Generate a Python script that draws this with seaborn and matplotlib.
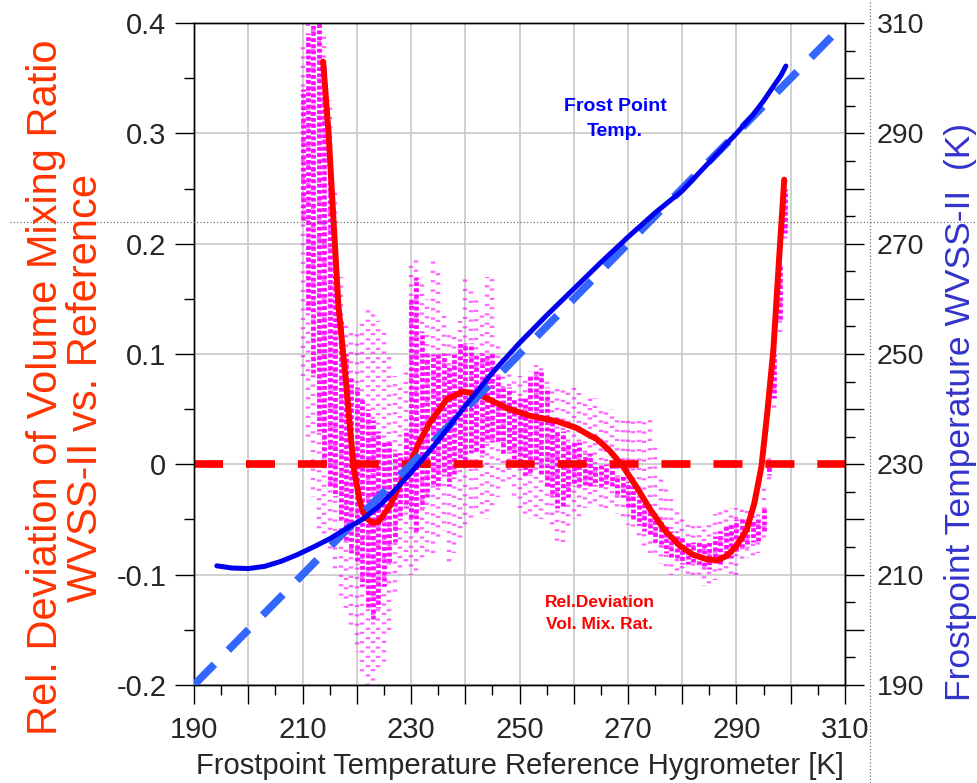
import numpy as np
import pandas as pd
import matplotlib
matplotlib.use("Agg")
import matplotlib.pyplot as plt
import seaborn as sns
from matplotlib import font_manager
from matplotlib.lines import Line2D
from matplotlib.ticker import MultipleLocator, FuncFormatter

# --- Data ---

# red fit: relative deviation of volume mixing ratio (left axis)
dev_temp = [213.8, 214.8, 215.7, 216.6, 217.4, 218.1, 218.8, 219.5, 220.6, 221.6, 222.8,
            224.0, 224.9, 226.2, 227.4, 228.6, 229.8, 231.5, 233.5, 236.6, 239.6, 242.7,
            247.6, 251.9, 256.9, 260.5, 263.0, 264.2, 266.5, 269.1, 271.5, 274.1, 276.8,
            279.6, 282.0, 284.5, 286.5, 288.2, 290.0, 291.9, 293.3, 294.6, 295.7, 296.8,
            297.9, 298.5, 298.8]
dev_value = [0.365, 0.300, 0.222, 0.145, 0.105, 0.070, 0.030, -0.005, -0.035, -0.048, -0.053,
             -0.052, -0.046, -0.037, -0.024, -0.012, 0.000, 0.020, 0.038, 0.059, 0.066, 0.063,
             0.051, 0.044, 0.039, 0.033, 0.026, 0.023, 0.013, -0.002, -0.020, -0.041, -0.060,
             -0.074, -0.082, -0.086, -0.087, -0.083, -0.074, -0.059, -0.035, -0.002, 0.048, 0.104,
             0.190, 0.235, 0.258]

# blue curve: WVSS-II frostpoint vs reference (right axis)
fp_ref = [194.2, 197, 200, 203, 206, 209, 212, 215, 218, 221, 224, 227, 230, 235, 240,
          245, 250, 255, 260, 265, 270, 275, 280, 285, 290, 293, 295, 297, 298.2, 299.1]
fp_wvss = [211.6, 211.2, 211.1, 211.5, 212.4, 213.6, 215.0, 216.5, 218.3, 220.0, 222.3,
           225.3, 228.5, 234.3, 240.6, 246.6, 252.0, 257.0, 261.8, 266.6, 271.2, 275.6,
           279.6, 284.8, 290.0, 293.3, 295.9, 298.8, 300.5, 302.2]

# magenta measurement cloud, one column per kelvin: outer extent and dense core
cloud_t = list(range(210, 300))
cloud_lo = [0.08, 0.02, -0.03, -0.06, -0.07, -0.08, -0.10, -0.12, -0.13, -0.15,
            -0.17, -0.19, -0.20, -0.20, -0.19, -0.18, -0.15, -0.12, -0.10, -0.09,
            -0.10, -0.10, -0.09, -0.08, -0.08, -0.07, -0.06, -0.09, -0.08, -0.07,
            -0.06, -0.05, -0.04, -0.05, -0.05, -0.04, -0.03, -0.02, -0.02, -0.03,
            -0.04, -0.05, -0.05, -0.05, -0.05, -0.05, -0.06, -0.07, -0.07, -0.06,
            -0.05, -0.05, -0.04, -0.04, -0.04, -0.04, -0.04, -0.04, -0.045, -0.05,
            -0.055, -0.06, -0.07, -0.075, -0.08, -0.085, -0.09, -0.095, -0.10, -0.10,
            -0.10, -0.10, -0.10, -0.105, -0.11, -0.11, -0.105, -0.10, -0.10, -0.10,
            -0.10, -0.09, -0.085, -0.085, -0.08, -0.07, -0.02, 0.05, 0.12, 0.20]
cloud_hi = [0.38, 0.40, 0.40, 0.40, 0.39, 0.33, 0.25, 0.17, 0.13, 0.12,
            0.12, 0.13, 0.14, 0.14, 0.13, 0.12, 0.10, 0.08, 0.07, 0.09,
            0.18, 0.19, 0.17, 0.15, 0.19, 0.18, 0.14, 0.12, 0.12, 0.13,
            0.17, 0.16, 0.15, 0.14, 0.17, 0.17, 0.11, 0.10, 0.09, 0.08,
            0.08, 0.08, 0.085, 0.09, 0.09, 0.08, 0.07, 0.07, 0.07, 0.07,
            0.07, 0.065, 0.06, 0.06, 0.06, 0.05, 0.05, 0.05, 0.04, 0.04,
            0.045, 0.04, 0.04, 0.045, 0.04, 0.02, -0.01, -0.02, -0.03, -0.04,
            -0.045, -0.05, -0.05, -0.05, -0.055, -0.05, -0.045, -0.04, -0.035, -0.04,
            -0.04, -0.035, -0.04, -0.045, -0.04, -0.02, 0.01, 0.12, 0.20, 0.26]
core_lo = [0.22, 0.14, 0.08, 0.03, 0.00, -0.02, -0.03, -0.05, -0.07, -0.08,
           -0.09, -0.11, -0.13, -0.14, -0.13, -0.11, -0.09, -0.07, -0.05, -0.04,
           -0.05, -0.06, -0.04, -0.03, -0.02, -0.02, -0.01, -0.02, -0.01, 0.00,
           0.00, 0.01, 0.01, 0.01, 0.02, 0.02, 0.02, 0.01, 0.01, 0.00,
           0.00, -0.01, -0.01, 0.00, -0.01, -0.02, -0.03, -0.04, -0.04, -0.03,
           -0.02, -0.02, -0.02, -0.02, -0.02, -0.02, -0.02, -0.02, -0.03, -0.03,
           -0.04, -0.05, -0.055, -0.06, -0.065, -0.07, -0.075, -0.08, -0.085, -0.085,
           -0.09, -0.09, -0.09, -0.09, -0.095, -0.095, -0.09, -0.09, -0.085, -0.085,
           -0.08, -0.075, -0.075, -0.07, -0.07, -0.06, -0.01, 0.06, 0.13, 0.21]
core_hi = [0.34, 0.39, 0.40, 0.40, 0.36, 0.28, 0.20, 0.13, 0.10, 0.08,
           0.07, 0.06, 0.05, 0.04, 0.03, 0.02, 0.02, 0.01, 0.01, 0.03,
           0.15, 0.17, 0.12, 0.10, 0.10, 0.10, 0.10, 0.09, 0.10, 0.11,
           0.11, 0.11, 0.10, 0.10, 0.10, 0.10, 0.08, 0.07, 0.07, 0.06,
           0.06, 0.06, 0.08, 0.085, 0.085, 0.07, 0.04, 0.03, 0.03, 0.02,
           0.02, 0.02, 0.01, 0.01, 0.00, 0.00, 0.00, 0.00, -0.01, -0.01,
           -0.015, -0.02, -0.03, -0.035, -0.04, -0.045, -0.05, -0.055, -0.06, -0.065,
           -0.065, -0.07, -0.07, -0.07, -0.07, -0.07, -0.065, -0.06, -0.055, -0.055,
           -0.05, -0.05, -0.05, -0.05, -0.05, -0.04, 0.00, 0.10, 0.18, 0.25]

x_range = [190, 310]
dev_range = [-0.2, 0.4]
fp_range = [190, 310]

x_label = "Frostpoint Temperature Reference Hygrometer [K]"
left_label = "Rel. Deviation of Volume Mixing Ratio\nWVSS-II vs. Reference"
right_label = "Frostpoint Temperature WVSS-II  (K)"

# --- Style ---
sns.set_style("white")
plt.rcParams['font.family'] = ['Liberation Sans', 'DejaVu Sans']
plt.rcParams['axes.unicode_minus'] = False

narrow = None
for cand in ['Liberation Sans Narrow', 'Arial Narrow']:
    try:
        font_manager.findfont(cand, fallback_to_default=False)
        narrow = cand
        break
    except Exception:
        pass

MAGENTA = '#FF00FF'
RED = '#FF0000'
BLUE = '#0000F0'
LIGHT_BLUE = '#3366FF'

fig = plt.figure(figsize=(9.78, 7.83), dpi=100)
ax = fig.add_axes([0.1984, 0.1252, 0.6656, 0.8454])
ax2 = ax.twinx()

# --- Left axis: deviation cloud and fit ---
# staggered dot phases so the speckle does not line up across columns
phases = [0.0, 0.9, 0.4, 1.5, 0.2, 1.1, 0.6, 1.8]
outer_styles = [(phases[i % 8], (0.5, 1.6)) for i in range(len(cloud_t))]
core_styles = [(phases[(i + 3) % 8] * 0.6, (0.8, 0.5)) for i in range(len(cloud_t))]
ax.vlines(cloud_t, cloud_lo, cloud_hi, colors=MAGENTA, linewidth=3.2, alpha=0.6,
          linestyles=outer_styles, zorder=2)
ax.vlines(cloud_t, core_lo, core_hi, colors=MAGENTA, linewidth=3.4, alpha=0.95,
          linestyles=core_styles, zorder=2)

ax.plot(x_range, [0, 0], color=RED, linewidth=5.5, dashes=(3.8, 3.0), zorder=3)
dev_df = pd.DataFrame({'t': dev_temp, 'dev': dev_value})
sns.lineplot(data=dev_df, x='t', y='dev', sort=False, estimator=None, color=RED,
             linewidth=4.3, ax=ax, zorder=4)

# --- Right axis: frostpoint comparison ---
ax2.plot(fp_range, fp_range, color=LIGHT_BLUE, linewidth=5.5, dashes=(3.8, 2.6), zorder=3)
fp_df = pd.DataFrame({'ref': fp_ref, 'wvss': fp_wvss})
sns.lineplot(data=fp_df, x='ref', y='wvss', sort=False, estimator=None, color=BLUE,
             linewidth=3.6, ax=ax2, zorder=4)

# seaborn puts the column names on the axes; the titles are added below
ax.set_ylabel("")
ax2.set_ylabel("")
ax2.set_xlabel("")

# --- Axes, ticks, grid ---
ax.set_xlim(*x_range)
ax.set_ylim(*dev_range)
ax2.set_ylim(*fp_range)

ax.xaxis.set_major_locator(MultipleLocator(10))
ax.xaxis.set_minor_locator(MultipleLocator(5))
ax.yaxis.set_major_locator(MultipleLocator(0.1))
ax.yaxis.set_minor_locator(MultipleLocator(0.05))
ax2.yaxis.set_major_locator(MultipleLocator(10))
ax2.yaxis.set_minor_locator(MultipleLocator(5))

every20 = FuncFormatter(lambda v, p: f"{v:.0f}" if round(v - 190) % 20 == 0 else "")
ax.xaxis.set_major_formatter(every20)
ax2.yaxis.set_major_formatter(every20)
ax.yaxis.set_major_formatter(FuncFormatter(lambda v, p: "0" if abs(v) < 1e-9 else f"{v:.1f}"))

ax.grid(True, which='major', color='#C8C8C8', linewidth=1.2)
ax.set_axisbelow(True)

for a in (ax, ax2):
    a.tick_params(which='major', direction='out', length=14, width=1.0, color='black')
    a.tick_params(which='minor', direction='out', length=7, width=1.0, color='black')
    for s in a.spines.values():
        s.set_color('black')
        s.set_linewidth(1.0)

ax.tick_params(axis='x', which='both', bottom=True, top=False)
ax.tick_params(axis='y', which='both', left=True, right=False)
ax2.tick_params(axis='y', which='both', right=True, left=False)

xt_font = narrow if narrow else 'Liberation Sans'
xt_size = 24 if narrow else 21
for lab in ax.get_xticklabels():
    lab.set_fontfamily(xt_font)
    lab.set_fontsize(xt_size)
ax.tick_params(axis='x', pad=8)
ax.tick_params(axis='y', labelsize=21, pad=6)
ax2.tick_params(axis='y', labelsize=20.5, pad=9)

ax.set_xlabel(x_label, fontsize=xt_size, family=xt_font, labelpad=6)

# axis titles placed on the figure, as in the reference layout
fig.text(0.067, 0.505, left_label, rotation=90, ha='center', va='center',
         fontsize=30, color='#FF3300', linespacing=1.0, multialignment='center')
fig.text(0.9816, 0.474, right_label, rotation=90, ha='center', va='center',
         fontsize=25.5, color='#3333CC')

# --- Annotations ---
ax.text(267.6, 0.313, "Frost Point\nTemp.", ha='center', va='center', color='#0000FF',
        fontweight='bold', fontsize=14, linespacing=1.6)
ax.text(264.8, -0.135, "Rel.Deviation\nVol. Mix. Rat.", ha='center', va='center',
        color=RED, fontweight='bold', fontsize=12.5, linespacing=1.6)

# dotted page guides that run through the original figure
fig.add_artist(Line2D([0.01, 1.0], [0.7165, 0.7165], transform=fig.transFigure,
                      color='#555555', linewidth=0.8, linestyle=(0, (1, 2))))
fig.add_artist(Line2D([0.8896, 0.8896], [0.0, 1.0], transform=fig.transFigure,
                      color='#555555', linewidth=0.8, linestyle=(0, (1, 2))))

fig.savefig("out.png", dpi=100)
